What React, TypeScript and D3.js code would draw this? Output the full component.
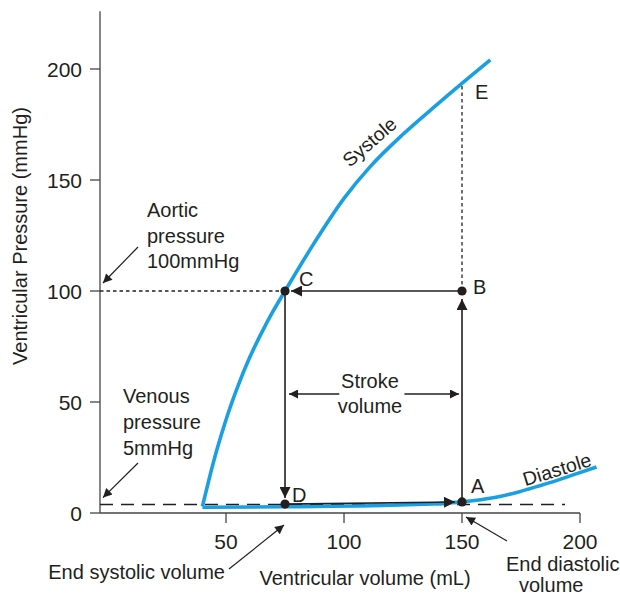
import React from "react";
import * as d3 from "d3";

// ---- data ----
const systoleVolume = [40, 43, 46, 50, 55, 60, 65, 70, 75, 86, 100, 111, 125, 139, 152, 162];
const systolePressure = [3, 16, 28, 42, 57, 70, 81, 91, 100, 119.3, 141.7, 155.9, 170.6, 183.6, 195.3, 204.1];
const diastoleVolume = [40, 75, 124, 150, 158, 166, 174, 182, 190, 198, 207];
const diastolePressure = [2.6, 2.8, 3.6, 5, 6, 7.4, 9.5, 12, 14.6, 17.5, 20.7];
const xTicks = [50, 100, 150, 200];
const yTicks = [0, 50, 100, 150, 200];
const pointLabels = ["A", "B", "C", "D"];
const pointVolume = [150, 150, 75, 75];
const pointPressure = [5, 100, 100, 4];
const ePressure = 194;
const venousPressure = 3.8;
const aorticPressure = 100;
const strokePressure = 53.6;

const W = 620, H = 596;
const BLUE = "#1aa0e0";
const INK = "#231f20";
const FONT = "'Liberation Sans', Arial, Helvetica, sans-serif";

export default function App() {
  const x = d3.scaleLinear().domain([-3.4, 200]).range([100, 580]);
  const y = d3.scaleLinear().domain([0, 200]).range([513, 69]);
  const yTop = 226;

  const line = d3
    .line<[number, number]>()
    .x((d) => x(d[0]))
    .y((d) => y(d[1]))
    .curve(d3.curveMonotoneX);

  const sys: [number, number][] = systoleVolume.map((v, i) => [v, systolePressure[i]]);
  const dia: [number, number][] = diastoleVolume.map((v, i) => [v, diastolePressure[i]]);

  const pts = pointLabels.map((l, i) => ({ l, px: x(pointVolume[i]), py: y(pointPressure[i]) }));
  const [A, B, C, D] = pts;

  const seg = (x1: number, y1: number, x2: number, y2: number, s: number) => {
    const dx = x2 - x1, dy = y2 - y1;
    const L = Math.hypot(dx, dy);
    return { x1, y1, x2: x2 - (dx / L) * s, y2: y2 - (dy / L) * s };
  };

  const cycle = [
    seg(D.px, D.py, A.px, A.py, 7),
    seg(A.px, A.py, B.px, B.py, 8),
    seg(B.px, B.py, C.px, C.py, 6),
    seg(C.px, C.py, D.px, D.py, 6),
  ];

  const ys = y(strokePressure);
  const midV = 111;
  const x0 = x(-3.4);

  const txt = { fontFamily: FONT, fill: INK } as const;
  const FS = 20;

  return (
    <svg width={W} height={H} style={{ position: "absolute", left: 0, top: 0, background: "#fff" }}>
      <defs>
        <marker id="big" viewBox="0 0 10 10" refX={10} refY={5} markerWidth={13} markerHeight={11} markerUnits="userSpaceOnUse" orient="auto">
          <path d="M0,0L10,5L0,10z" fill={INK} />
        </marker>
        <marker id="small" viewBox="0 0 10 10" refX={10} refY={5} markerWidth={12} markerHeight={9} markerUnits="userSpaceOnUse" orient="auto">
          <path d="M0,0L10,5L0,10z" fill={INK} />
        </marker>
      </defs>

      {/* axes */}
      <line x1={x0} x2={x0} y1={y(0)} y2={y(yTop)} stroke="#444" strokeWidth={1.3} />
      <line x1={x0} x2={x(200)} y1={y(0)} y2={y(0)} stroke="#444" strokeWidth={1.3} />
      {yTicks.map((t) => (
        <g key={"y" + t}>
          <line x1={x0 - 10} x2={x0} y1={y(t)} y2={y(t)} stroke="#444" strokeWidth={1.3} />
          <text x={x0 - 18} y={y(t) + 7.5} textAnchor="end" fontSize={21} style={txt}>{t}</text>
        </g>
      ))}
      {xTicks.map((t) => (
        <g key={"x" + t}>
          <line x1={x(t)} x2={x(t)} y1={y(0)} y2={y(0) + 10} stroke="#444" strokeWidth={1.3} />
          <text x={x(t)} y={549} textAnchor="middle" fontSize={21} style={txt}>{t}</text>
        </g>
      ))}
      <text transform={`translate(27,236) rotate(-90)`} textAnchor="middle" fontSize={FS} style={txt}>
        Ventricular Pressure (mmHg)
      </text>
      <text x={365} y={585} textAnchor="middle" fontSize={FS} style={txt}>Ventricular volume (mL)</text>

      {/* reference lines */}
      <line x1={x0} x2={C.px} y1={y(aorticPressure)} y2={y(aorticPressure)} stroke={INK} strokeWidth={1.3} strokeDasharray="3.5,3" />
      <line x1={x0} x2={565} y1={y(venousPressure)} y2={y(venousPressure)} stroke={INK} strokeWidth={1.4} strokeDasharray="13,8" />
      <line x1={B.px} x2={B.px} y1={B.py} y2={y(ePressure)} stroke={INK} strokeWidth={1.3} strokeDasharray="3.5,3" />

      {/* curves */}
      <path d={line(sys) || ""} fill="none" stroke={BLUE} strokeWidth={3.6} />
      <path d={line(dia) || ""} fill="none" stroke={BLUE} strokeWidth={3.6} />

      {/* cycle arrows */}
      {cycle.map((s, i) => (
        <line key={"c" + i} {...s} stroke={INK} strokeWidth={1.6} markerEnd="url(#big)" />
      ))}
      {pts.map((p) => (
        <circle key={"p" + p.l} cx={p.px} cy={p.py} r={4.6} fill={INK} />
      ))}
      <text x={A.px + 9} y={A.py - 9} fontSize={FS} style={txt}>A</text>
      <text x={B.px + 11} y={B.py + 3} fontSize={FS} style={txt}>B</text>
      <text x={C.px + 14} y={C.py - 5} fontSize={FS} style={txt}>C</text>
      <text x={D.px + 7} y={D.py - 2} fontSize={FS} style={txt}>D</text>
      <text x={B.px + 13} y={y(ePressure) + 17} fontSize={FS} style={txt}>E</text>

      {/* stroke volume */}
      <line x1={x(98)} x2={C.px + 4} y1={ys} y2={ys} stroke={INK} strokeWidth={1.3} markerEnd="url(#small)" />
      <line x1={x(125.6)} x2={B.px - 3} y1={ys} y2={ys} stroke={INK} strokeWidth={1.3} markerEnd="url(#small)" />
      <text x={x(midV)} y={ys - 6} textAnchor="middle" fontSize={FS} style={txt}>Stroke</text>
      <text x={x(midV)} y={ys + 19} textAnchor="middle" fontSize={FS} style={txt}>volume</text>

      {/* curve labels */}
      <text transform="translate(374,147) rotate(-41)" textAnchor="middle" fontSize={19.5} style={txt}>Systole</text>
      <text transform="translate(559,476) rotate(-17)" textAnchor="middle" fontSize={19.5} style={txt}>Diastole</text>

      {/* annotations */}
      <text x={147} y={217} fontSize={FS} style={txt}>Aortic</text>
      <text x={147} y={243} fontSize={FS} style={txt}>pressure</text>
      <text x={147} y={268} fontSize={FS} style={txt}>100mmHg</text>
      <line x1={138} y1={247} x2={x0 + 3} y2={y(aorticPressure) - 8} stroke={INK} strokeWidth={1.2} markerEnd="url(#small)" />

      <text x={123} y={403} fontSize={FS} style={txt}>Venous</text>
      <text x={123} y={429} fontSize={FS} style={txt}>pressure</text>
      <text x={123} y={455} fontSize={FS} style={txt}>5mmHg</text>
      <line x1={138} y1={463} x2={x0 + 3} y2={y(venousPressure) - 7} stroke={INK} strokeWidth={1.2} markerEnd="url(#small)" />

      <text x={225} y={579} textAnchor="end" fontSize={FS} style={txt}>End systolic volume</text>
      <line x1={229} y1={569} x2={D.px - 1} y2={y(0) + 12} stroke={INK} strokeWidth={1.2} markerEnd="url(#small)" />

      <text x={506} y={571} fontSize={FS} style={txt}>End diastolic</text>
      <text x={519} y={592} fontSize={FS} style={txt}>volume</text>
      <line x1={507} y1={541} x2={A.px + 4} y2={y(0) + 4} stroke={INK} strokeWidth={1.2} markerEnd="url(#small)" />
    </svg>
  );
}
